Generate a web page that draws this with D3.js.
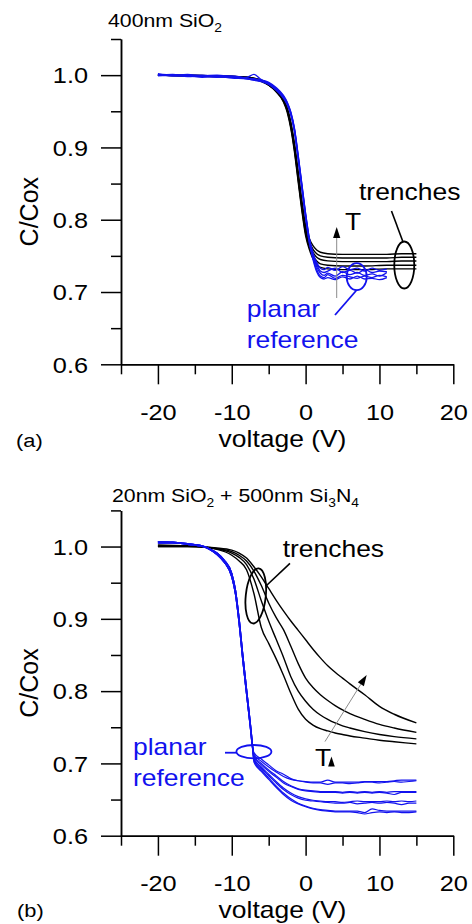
<!DOCTYPE html>
<html><head><meta charset="utf-8">
<script src="https://cdn.jsdelivr.net/npm/d3@7"></script>
<style>
body{margin:0;background:#fff}
svg{display:block}
text{font-family:"Liberation Sans",Arial,Helvetica,sans-serif}
</style>
</head><body>
<svg id="c" width="472" height="924"></svg>
<script>
// ---------------- DATA ----------------
const xMajorTicks = [-20, -10, 0, 10, 20];
const xTickLabels = ["-20", "-10", "0", "10", "20"];
const xMinorTicks = [-25, -15, -5, 5, 15];
const yMajorTicks = [0.6, 0.7, 0.8, 0.9, 1.0];
const yTickLabels = ["0.6", "0.7", "0.8", "0.9", "1.0"];
const yMinorTicks = [0.65, 0.75, 0.85, 0.95, 1.05];

// Panel (a): 400nm SiO2
const vA_trench = [-20,-16,-12,-8,-6,-5,-4,-3,-2.5,-2,-1.5,-1,-0.5,0,0.5,1,1.5,2,3,5,8,11,13,15];
const aTrench1 = [1.000,1.000,0.999,0.997,0.993,0.988,0.980,0.967,0.955,0.935,0.905,0.866,0.826,0.792,0.774,0.764,0.758,0.755,0.753,0.752,0.752,0.752,0.753,0.753];
const aTrench2 = [1.000,1.000,0.999,0.997,0.993,0.988,0.980,0.966,0.954,0.933,0.902,0.862,0.822,0.788,0.770,0.759,0.753,0.750,0.748,0.747,0.747,0.747,0.748,0.748];
const aTrench3 = [1.000,0.999,0.999,0.997,0.992,0.987,0.979,0.965,0.952,0.930,0.899,0.858,0.818,0.784,0.766,0.755,0.748,0.745,0.743,0.742,0.742,0.742,0.743,0.743];
const aTrench4 = [1.000,0.999,0.998,0.996,0.992,0.986,0.978,0.964,0.951,0.928,0.896,0.855,0.815,0.781,0.762,0.750,0.743,0.739,0.737,0.736,0.736,0.737,0.737,0.737];
const aTrench5 = [1.000,0.999,0.998,0.996,0.991,0.986,0.977,0.963,0.949,0.926,0.893,0.852,0.812,0.778,0.759,0.746,0.738,0.734,0.732,0.731,0.731,0.732,0.732,0.732];

const vA_planar = [-20,-18,-16,-14,-12,-10,-8,-7,-6,-5,-4,-3,-2.5,-2,-1.5,-1,-0.5,0,0.5,1,1.5,2,2.5,3,4,5,6,7,8,9,10,11];
const aPlanar1 = [1.002,1.000,1.001,0.999,1.000,0.998,0.997,1.001,0.994,0.990,0.983,0.972,0.963,0.949,0.926,0.889,0.849,0.809,0.775,0.754,0.741,0.733,0.731,0.734,0.730,0.735,0.731,0.733,0.729,0.733,0.730,0.732];
const aPlanar2 = [1.000,1.001,0.999,1.000,0.998,0.999,0.996,0.995,0.993,0.989,0.982,0.971,0.962,0.948,0.925,0.888,0.848,0.808,0.774,0.752,0.738,0.729,0.727,0.729,0.733,0.727,0.730,0.726,0.731,0.727,0.729,0.728];
const aPlanar3 = [1.001,0.999,1.000,0.998,0.999,0.997,0.996,0.994,0.993,0.988,0.981,0.970,0.961,0.947,0.924,0.886,0.846,0.806,0.772,0.750,0.735,0.726,0.723,0.726,0.722,0.728,0.724,0.727,0.723,0.725,0.722,0.727];
const aPlanar4 = [0.999,1.000,0.998,0.999,0.997,0.998,0.995,0.993,0.992,0.988,0.980,0.969,0.960,0.946,0.922,0.884,0.844,0.804,0.770,0.747,0.731,0.722,0.720,0.724,0.719,0.723,0.721,0.719,0.722,0.720,0.723,0.721];
const aPlanar5 = [1.000,0.999,0.999,0.997,0.998,0.996,0.995,0.993,0.991,0.987,0.979,0.968,0.959,0.945,0.921,0.883,0.842,0.802,0.768,0.745,0.728,0.720,0.718,0.720,0.717,0.721,0.718,0.722,0.718,0.719,0.717,0.720];

// Panel (b): 20nm SiO2 + 500nm Si3N4
const vB_trench = [-20,-16,-12,-10,-9,-8,-7,-6,-5,-4,-3,-2,-1,0,1,2,3,4,5,6,8,10,12,15];
const bTrench1 = [1.002,1.001,0.996,0.988,0.980,0.968,0.935,0.888,0.866,0.845,0.822,0.797,0.775,0.761,0.753,0.748,0.745,0.742,0.740,0.738,0.735,0.732,0.730,0.727];
const bTrench2 = [1.002,1.001,0.997,0.991,0.985,0.975,0.955,0.925,0.897,0.872,0.847,0.820,0.800,0.786,0.775,0.767,0.761,0.756,0.752,0.749,0.744,0.740,0.737,0.734];
const bTrench3 = [1.000,1.000,0.997,0.993,0.988,0.980,0.966,0.946,0.922,0.902,0.885,0.862,0.838,0.818,0.805,0.795,0.787,0.780,0.774,0.769,0.761,0.754,0.749,0.743];
const bTrench4 = [1.000,1.000,0.998,0.995,0.991,0.984,0.972,0.958,0.942,0.926,0.911,0.897,0.884,0.871,0.858,0.846,0.835,0.826,0.818,0.810,0.795,0.779,0.768,0.756];

const vB_planar = [-20,-18,-16,-14,-13,-12,-11,-10,-9.5,-9,-8.5,-8,-7.5,-7.2,-7,-6,-5,-4,-3,-2,-1,0,1,2,3,4,5,6,7,8,9,10,11,12,13,14,15];
const bPlanarHeadUp   = [1.007,1.006,1.004,1.001,0.997,0.991,0.981,0.963,0.940,0.900,0.850,0.803,0.757,0.727];
const bPlanarHeadDown = [1.005,1.005,1.003,1.000,0.996,0.989,0.978,0.958,0.934,0.893,0.842,0.796,0.751,0.722];
const bPlanar1Up   = [0.713,0.703,0.695,0.688,0.682,0.678,0.676,0.674,0.673,0.673,0.671,0.673,0.673,0.672,0.673,0.674,0.674,0.673,0.674,0.675,0.674,0.675,0.676];
const bPlanar1Down = [0.715,0.706,0.698,0.690,0.685,0.679,0.676,0.675,0.674,0.674,0.677,0.674,0.674,0.674,0.674,0.675,0.675,0.675,0.675,0.676,0.677,0.677,0.677];
const bPlanar2Up   = [0.709,0.698,0.689,0.681,0.673,0.668,0.664,0.662,0.661,0.660,0.660,0.660,0.659,0.660,0.659,0.660,0.659,0.660,0.659,0.657,0.660,0.660,0.660];
const bPlanar2Down = [0.711,0.700,0.691,0.683,0.675,0.669,0.665,0.663,0.662,0.661,0.661,0.661,0.660,0.661,0.660,0.661,0.660,0.661,0.660,0.661,0.661,0.661,0.661];
const bPlanar3Up   = [0.705,0.693,0.683,0.673,0.664,0.657,0.652,0.649,0.648,0.647,0.646,0.645,0.645,0.646,0.644,0.645,0.646,0.645,0.646,0.645,0.643,0.645,0.645];
const bPlanar3Down = [0.707,0.695,0.685,0.675,0.666,0.659,0.654,0.651,0.649,0.648,0.647,0.647,0.646,0.647,0.648,0.647,0.647,0.647,0.648,0.647,0.648,0.647,0.648];
const bPlanar4Up   = [0.702,0.689,0.678,0.667,0.657,0.649,0.644,0.640,0.637,0.635,0.634,0.633,0.633,0.633,0.632,0.630,0.632,0.633,0.632,0.633,0.632,0.632,0.633];
const bPlanar4Down = [0.704,0.691,0.680,0.669,0.659,0.651,0.645,0.641,0.638,0.636,0.635,0.634,0.634,0.634,0.634,0.632,0.637,0.635,0.634,0.634,0.634,0.634,0.634];

const titleA = [["400nm SiO", false], ["2", true]];
const titleB = [["20nm SiO", false], ["2", true], [" + 500nm Si", false], ["3", true], ["N", false], ["4", true]];

// ---------------- DRAWING ----------------
const SX = 1.15;
const BLUE = "#1212ee";
const FONT = '"Liberation Sans", Arial, Helvetica, sans-serif';
const svg = d3.select("#c");
const x = d3.scaleLinear().domain([-25, 20]).range([121, 453.3]);
const yA = d3.scaleLinear().domain([0.6, 1.05]).range([364.3, 39]);
const yB = d3.scaleLinear().domain([0.6, 1.05]).range([835.7, 510.4]);

function txt(px, py, str, size, opts = {}) {
  return svg.append("text")
    .attr("transform", `translate(${px},${py}) scale(${opts.sx ?? SX},1)`)
    .attr("text-anchor", opts.anchor || "start")
    .attr("font-size", size)
    .attr("fill", opts.fill || "#000")
    .text(str);
}

function title(px, py, parts) {
  const t = svg.append("text")
    .attr("transform", `translate(${px},${py}) scale(${SX},1)`)
    .attr("font-size", 18.5).attr("fill", "#000");
  let prevSub = false;
  parts.forEach(([s, sub]) => {
    const ts = t.append("tspan").text(s);
    if (sub) { ts.attr("font-size", 12).attr("dy", prevSub ? 0 : 5); }
    else if (prevSub) { ts.attr("dy", -5); }
    prevSub = sub;
  });
}

function axes(y) {
  const g = svg.append("g");
  const yr = y.range();
  const fmtY = (d) => yTickLabels[yMajorTicks.indexOf(d)];
  const fmtX = (d) => xTickLabels[xMajorTicks.indexOf(d)];
  const gy = g.append("g").attr("transform", `translate(${x(-25)},0)`)
    .call(d3.axisLeft(y).tickValues(yMajorTicks).tickSize(20).tickSizeOuter(0).tickFormat(fmtY));
  const gy2 = g.append("g").attr("transform", `translate(${x(-25)},0)`)
    .call(d3.axisLeft(y).tickValues(yMinorTicks).tickSize(10).tickSizeOuter(0).tickFormat(""));
  const gx = g.append("g").attr("transform", `translate(0,${y(0.6)})`)
    .call(d3.axisBottom(x).tickValues(xMajorTicks).tickSize(20).tickSizeOuter(0).tickFormat(fmtX));
  const gx2 = g.append("g").attr("transform", `translate(0,${y(0.6)})`)
    .call(d3.axisBottom(x).tickValues(xMinorTicks).tickSize(10).tickSizeOuter(0).tickFormat(""));
  [gy, gy2, gx, gx2].forEach(a => {
    a.attr("font-family", FONT).attr("font-size", 22);
    a.selectAll("path,line").attr("stroke", "#000").attr("stroke-width", 1.5);
  });
  gy.selectAll(".tick text").attr("x", null).attr("dy", null).attr("fill", "#000")
    .attr("text-anchor", "end").attr("transform", `translate(-33,7.7) scale(${SX},1)`);
  gx.selectAll(".tick text").attr("y", null).attr("dy", null).attr("fill", "#000")
    .attr("text-anchor", "middle").attr("transform", `translate(0,55.7) scale(${SX},1)`);
  // axis titles
  txt(282.5, y(0.6) + 82.2, "voltage (V)", 23, { anchor: "middle" });
  svg.append("text")
    .attr("transform", `translate(37.5,${(yr[0] + yr[1]) / 2 + 10}) rotate(-90)`)
    .attr("text-anchor", "middle").attr("font-size", 25).attr("fill", "#000").text("C/Cox");
}

function curve(vs, cs, y, color, w) {
  const line = d3.line().x((d, i) => x(vs[i])).y(d => y(d)).curve(d3.curveMonotoneX);
  svg.append("path").datum(cs).attr("d", line)
    .attr("fill", "none").attr("stroke", color).attr("stroke-width", w)
    .attr("stroke-linejoin", "round");
}

function ellipse(v, c, y, rx, ry, color, rot = 0) {
  svg.append("ellipse")
    .attr("transform", `translate(${x(v)},${y(c)}) rotate(${rot})`)
    .attr("rx", rx).attr("ry", ry)
    .attr("fill", "none").attr("stroke", color).attr("stroke-width", 1.8);
}

function seg(v1, c1, v2, c2, y, color, w) {
  svg.append("line").attr("x1", x(v1)).attr("y1", y(c1)).attr("x2", x(v2)).attr("y2", y(c2))
    .attr("stroke", color).attr("stroke-width", w);
}

function arrow(v1, c1, v2, c2, y) {
  const x1 = x(v1), y1 = y(c1), x2 = x(v2), y2 = y(c2);
  const ang = Math.atan2(y2 - y1, x2 - x1);
  const L = 11, Hw = 3.6;
  const bx = x2 - L * Math.cos(ang), by = y2 - L * Math.sin(ang);
  svg.append("line").attr("x1", x1).attr("y1", y1).attr("x2", bx).attr("y2", by)
    .attr("stroke", "#8c8c8c").attr("stroke-width", 1);
  const px = -Math.sin(ang) * Hw, py = Math.cos(ang) * Hw;
  svg.append("path")
    .attr("d", `M${x2},${y2}L${bx + px},${by + py}L${bx - px},${by - py}Z`)
    .attr("fill", "#000");
}

// ---- Panel (a) ----
title(108, 26.7, titleA);
axes(yA);
[aTrench1, aTrench2, aTrench3, aTrench4, aTrench5].forEach(c => curve(vA_trench, c, yA, "#000", 1.4));
[aPlanar1, aPlanar2, aPlanar3, aPlanar4, aPlanar5].forEach(c => curve(vA_planar, c, yA, BLUE, 1.3));
txt(16, 447, "(a)", 19);
// annotations (a)
txt(359, yA(0.8273), "trenches", 23);
seg(11.63, 0.8121, 13.19, 0.7692, yA, "#000", 1.6);
ellipse(13.36, 0.7374, yA, 10, 23.5, "#000");
arrow(4.21, 0.6917, 4.21, 0.790, yA);
txt(345, yA(0.7858), "T", 23);
ellipse(6.92, 0.7212, yA, 10, 13.5, BLUE);
seg(6.92, 0.7028, 3.98, 0.6682, yA, BLUE, 1.8);
txt(246.7, yA(0.6658), "planar", 23, { fill: BLUE });
txt(246.7, yA(0.6232), "reference", 23, { fill: BLUE });

// ---- Panel (b) ----
title(112, 501.7, titleB);
axes(yB);
[bTrench1, bTrench2, bTrench3, bTrench4].forEach(c => curve(vB_trench, c, yB, "#000", 1.4));
const bUp = [bPlanar1Up, bPlanar2Up, bPlanar3Up, bPlanar4Up];
const bDown = [bPlanar1Down, bPlanar2Down, bPlanar3Down, bPlanar4Down];
bUp.forEach(t => curve(vB_planar, bPlanarHeadUp.concat(t), yB, BLUE, 1.2));
bDown.forEach(t => curve(vB_planar, bPlanarHeadDown.concat(t), yB, BLUE, 1.2));
txt(17, 917, "(b)", 19);
// annotations (b)
txt(282.7, yB(0.9859), "trenches", 23);
seg(-2.12, 0.9768, -5.37, 0.9454, yB, "#000", 1.6);
ellipse(-6.75, 0.9317, yB, 10, 27.7, "#000", 6);
arrow(2.62, 0.7302, 8.27, 0.8224, yB);
txt(315, yB(0.6964), "T", 23);
svg.append("path")
  .attr("d", `M${x(3.05)},${yB(0.6958)}L${x(3.95)},${yB(0.6958)}L${x(3.5)},${yB(0.7096)}Z`)
  .attr("fill", "#000");
ellipse(-7.0, 0.7162, yB, 17.5, 6.7, BLUE);
seg(-10.92, 0.7148, -9.33, 0.7148, yB, BLUE, 1.8);
txt(133, yB(0.7116), "planar", 23, { fill: BLUE });
txt(133, yB(0.6691), "reference", 23, { fill: BLUE });
</script>
</body></html>
